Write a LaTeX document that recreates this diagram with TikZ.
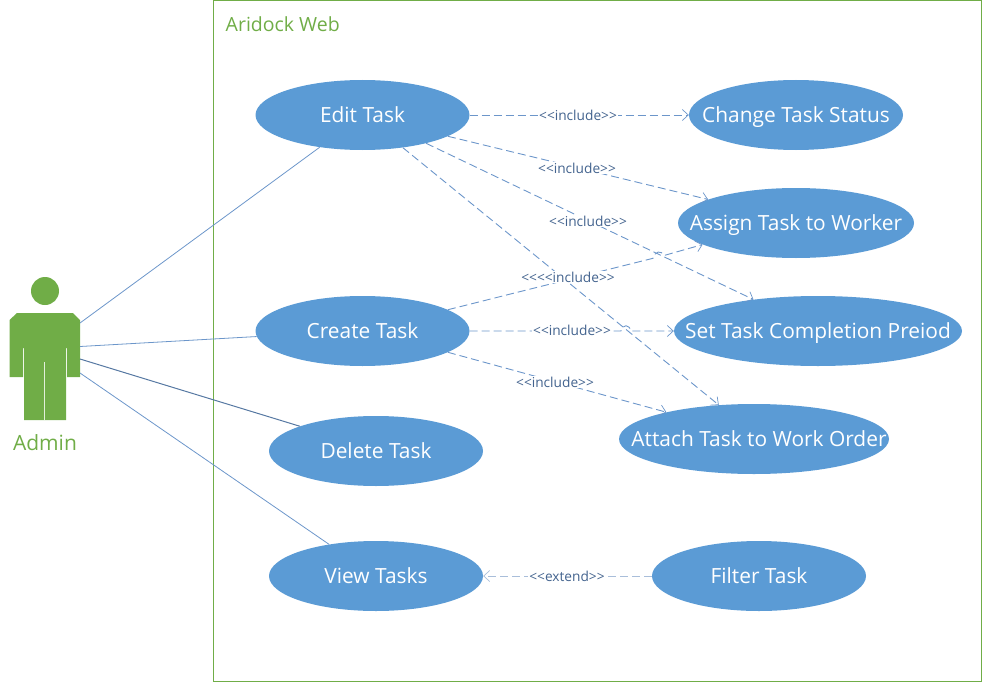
\documentclass[tikz,border=0pt]{standalone}
\usepackage{fontspec}
\setmainfont{Open Sans}
\usetikzlibrary{arrows.meta,shapes.geometric}
\definecolor{ublue}{HTML}{5B9BD5}
\definecolor{ugreen}{HTML}{70AD47}
\definecolor{linkc}{HTML}{6C96CA}
\definecolor{labelc}{HTML}{44648F}
\definecolor{linkpale}{HTML}{A9BEDA}
\newcommand{\uctext}[1]{\makebox[0pt]{\raisebox{-0.36em}[0pt][0pt]{#1}}}
\tikzset{
  usecase/.style={ellipse,fill=ublue,text=white,inner sep=0pt,minimum height=70pt,font=\fontsize{20.9}{24}\selectfont},
  assoc/.style={draw=linkc,line width=0.8pt},
  dep/.style={draw=linkc,line width=0.9pt,dash pattern=on 8pt off 4pt,-{Straight Barb[length=6pt,width=11pt,line width=0.7pt]}},
  deplabel/.style={fill=white,text=labelc,inner sep=1pt,font=\fontsize{13.7}{15}\selectfont},
  actorshape/.style={fill=ugreen,draw=none},
}
\begin{document}
\begin{tikzpicture}[x=1pt,y=-1pt]
\useasboundingbox (0,0) rectangle (982,682);
% system boundary
\node[draw=ugreen,line width=1pt,minimum width=768pt,minimum height=680pt,inner sep=0pt] (sys) at (597,341) {};
\node[text=ugreen,anchor=west,inner sep=0pt,font=\fontsize{19.5}{22}\selectfont] (title) at (225.5,24) {Aridock Web};
% actor
\fill[actorshape] (45,291) circle (14pt);
\fill[actorshape] (9.5,320) -- (17,313) -- (73,313) -- (80,320) -- (80,377) -- (67,377) -- (67,348) -- (66,348) -- (66,420) -- (24,420) -- (24,348) -- (23,348) -- (23,377) -- (9.5,377) -- cycle;
\draw[white!80!ugreen,line width=0.8pt] (44.7,362) -- (44.7,420);
\node[text=ugreen,inner sep=0pt,font=\fontsize{21}{24}\selectfont] (adminlabel) at (45,442.5) {Admin};
\coordinate (a1) at (80,323);
\coordinate (a2) at (80,346.5);
\coordinate (a3) at (80,359);
\coordinate (a4) at (80,373);
% use cases
\node[usecase,minimum width=214pt] (edit) at (362.5,115) {\uctext{Edit Task}};
\node[usecase,minimum width=214pt] (change) at (796,115) {\uctext{Change Task Status}};
\node[usecase,minimum width=236pt] (assign) at (796,223) {\uctext{Assign Task to Worker}};
\node[usecase,minimum width=288pt] (set) at (818,331) {\uctext{Set Task Completion Preiod}};
\node[usecase,minimum width=270pt] (attach) at (754,439) {\uctext{\hspace{10pt}Attach Task to Work Order}};
\node[usecase,minimum width=214pt] (create) at (362.5,331) {\uctext{Create Task}};
\node[usecase,minimum width=214pt] (delete) at (376,451) {\uctext{Delete Task}};
\node[usecase,minimum width=214pt] (view) at (376,576) {\uctext{View Tasks}};
\node[usecase,minimum width=214pt] (filter) at (759,576) {\uctext{Filter Task}};
% associations
\draw[assoc] (a1) -- (edit.217);
\draw[assoc] (a2) -- (create.183);
\draw[assoc,draw=linkc!80!black,line width=1pt] (a3) -- (delete.162.2);
\draw[assoc] (a4) -- (view.146);
% dependencies
\draw[dep] (edit.east) -- (change.west);
\draw[dep] (edit.-14) -- (assign.165.2);
\draw[dep] (edit.-24.5) -- (set.154.1);
\draw[dep] (edit.-39.2) -- (attach.136.6);
\coordinate (hopa) at (653,258.3);
\coordinate (hopb) at (664,255.5);
\draw[dep] (create.14) -- (hopa) .. controls (655,251) and (661,250) .. (hopb) -- (assign.193.7);
\coordinate (hopc) at (621,331);
\coordinate (hopd) at (631,331);
\draw[dep] (create.east) -- (hopc) .. controls (623,324) and (629,324) .. (hopd) -- (set.west);
\draw[dep] (create.-14.4) -- (attach.163.3);
\draw[dep,draw=linkpale] (filter.west) -- (view.east);
% labels
\node[deplabel] (l1) at (578,115) {<{}<include>{}>};
\node[deplabel] (l2) at (577,168) {<{}<include>{}>};
\node[deplabel] (l3) at (588,221) {<{}<include>{}>};
\node[deplabel] (l5) at (568,277) {<{}<{}<{}<include>{}>};
\node[deplabel] (l6) at (572,330) {<{}<include>{}>};
\node[deplabel] (l7) at (555,382) {<{}<include>{}>};
\node[deplabel] (l8) at (567,576) {<{}<extend>{}>};
\end{tikzpicture}
\end{document}
